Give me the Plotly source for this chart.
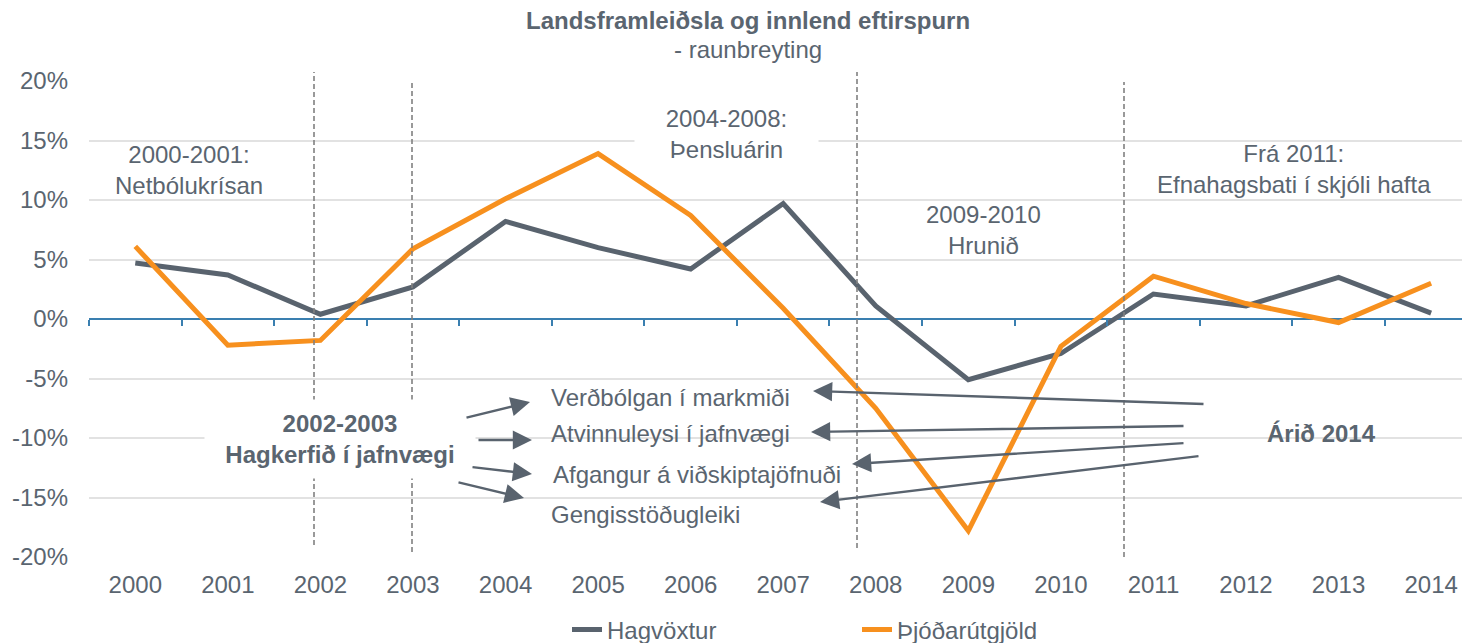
import plotly.graph_objects as go

# ---- data ----
years = [str(y) for y in range(2000, 2015)]
hagvoxtur = [4.7, 3.7, 0.4, 2.7, 8.2, 6.0, 4.2, 9.7, 1.1, -5.1, -2.9, 2.1, 1.1, 3.5, 0.5]
thjodarutgjold = [6.1, -2.2, -1.8, 5.9, 10.1, 13.9, 8.7, 0.9, -7.5, -17.8, -2.3, 3.6, 1.3, -0.3, 3.0]
y_ticks = [-20, -15, -10, -5, 0, 5, 10, 15, 20]
y_ticktext = [f"{v}%" for v in y_ticks]

GREY = "#59636e"
TEXT = "#5a6570"
ORANGE = "#f7901e"
BLUE = "#3a7fb0"
FONT = "Liberation Sans, Arial, sans-serif"

OFF = 8                      # page body margin of the html page
SW, SH = 1470, 643           # screen size
L, R, T, B = 89, 1470, 81, 557   # plot area in screen pixels
W, H = SW - OFF, SH - OFF


def xp(px):
    return (px - L) / (R - L)


def yp(py):
    return (B - py) / (B - T)


fig = go.Figure()
fig.add_trace(go.Scatter(x=years, y=hagvoxtur, mode="lines", name="Hagvöxtur",
                         line=dict(color=GREY, width=5)))
fig.add_trace(go.Scatter(x=years, y=thjodarutgjold, mode="lines", name="Þjóðarútgjöld",
                         line=dict(color=ORANGE, width=5)))
# invisible helper trace so the zero-line tick axis is drawn
fig.add_trace(go.Scatter(x=list(range(len(years))), y=hagvoxtur, xaxis="x2", mode="lines",
                         opacity=0, showlegend=False, hoverinfo="skip"))

fig.update_layout(
    width=W, height=H,
    margin=dict(l=L - OFF, r=SW - R, t=T - OFF, b=SH - B, autoexpand=False),
    paper_bgcolor="white", plot_bgcolor="white",
    font=dict(family=FONT, size=24, color=TEXT),
    showlegend=True,
    legend=dict(orientation="h", x=xp(567), xanchor="left", y=yp(630), yanchor="middle",
                font=dict(size=24, color=TEXT), entrywidth=245, entrywidthmode="pixels",
                bgcolor="rgba(0,0,0,0)"),
    xaxis=dict(type="category", range=[-0.5, 14.42], showgrid=False, zeroline=False,
               showline=False, ticks="", tickfont=dict(size=24, color=TEXT),
               ticklabelstandoff=11),
    xaxis2=dict(overlaying="x", anchor="free", position=0.5, range=[-0.5, 14.42],
                showgrid=False, zeroline=False, showline=False, showticklabels=False,
                ticks="outside", ticklen=6, tickwidth=1.5, tickcolor=BLUE,
                tickmode="array", tickvals=[i - 0.5 for i in range(len(years))], side="bottom"),
    yaxis=dict(range=[-20, 20], tickmode="array", tickvals=y_ticks, ticktext=y_ticktext,
               showgrid=True, gridcolor="#e2e2e2", gridwidth=1.5,
               zeroline=True, zerolinecolor=BLUE, zerolinewidth=1.5,
               ticks="", tickfont=dict(size=24, color=TEXT), ticklabelstandoff=20),
)

shapes = []
# gridline gaps behind text boxes
for x0, x1, yv in [(204, 809, -10), (1185, 1457, -10), (634, 817, 15)]:
    shapes.append(dict(type="rect", xref="paper", yref="y", x0=xp(x0), x1=xp(x1),
                       y0=yv - 0.4, y1=yv + 0.4, fillcolor="white", line=dict(width=0),
                       layer="between"))
# dashed period separators
for px, top, bot in [(314, 72, 545), (412, 80, 552), (857, 72, 548), (1124, 82, 557)]:
    shapes.append(dict(type="line", xref="paper", yref="paper", x0=xp(px), x1=xp(px),
                       y0=yp(bot), y1=yp(top),
                       line=dict(color="#808080", width=1.6, dash="5px,3px"),
                       layer="above"))
fig.update_layout(shapes=shapes)


def label(txt, px, py, xanchor="center", **kw):
    return dict(xref="paper", yref="paper", x=xp(px), y=yp(py), xanchor=xanchor,
                yanchor="middle", text=txt, showarrow=False, **kw)


ann = [
    label("<b>Landsframleiðsla og innlend eftirspurn</b>", 748, 20),
    label("- raunbreyting", 748, 49),
    label("2000-2001:<br>Netbólukrísan", 189, 170),
    label("2004-2008:<br>Þensluárin", 726, 134, bgcolor="white", width=165, borderpad=9),
    label("2009-2010<br>Hrunið", 983, 230),
    label("Frá 2011:<br>Efnahagsbati í skjóli hafta", 1294, 169),
    label("<b>2002-2003</b><br><b>Hagkerfið í jafnvægi</b>", 340, 439,
          bgcolor="white", width=250, borderpad=10),
    label("<b>Árið 2014</b>", 1321, 433),
]
for txt, px, py in [("Verðbólgan í markmiði", 549, 397), ("Atvinnuleysi í jafnvægi", 549, 433),
                    ("Afgangur á viðskiptajöfnuði", 551, 474), ("Gengisstöðugleiki", 549, 514)]:
    ann.append(label(txt, px, py, xanchor="left"))
# arrows (tail -> head), screen pixels
arrows = [((465, 418), (530, 402)), ((477, 440), (532, 440)), ((471, 467), (532, 474)),
          ((457, 482), (524, 498)),
          ((1205, 404), (813, 391)), ((1185, 426), (811, 432)), ((1185, 443), (852, 464)),
          ((1200, 456), (820, 502))]
for (tx, ty), (hx, hy) in arrows:
    ann.append(dict(xref="paper", yref="paper", x=xp(hx), y=yp(hy), ax=tx - hx, ay=ty - hy,
                    text="", showarrow=True, arrowhead=2, arrowsize=1.6, arrowwidth=2.4,
                    arrowcolor=GREY, standoff=0, startstandoff=0))
fig.update_layout(annotations=ann)

fig.write_html("out.html")
